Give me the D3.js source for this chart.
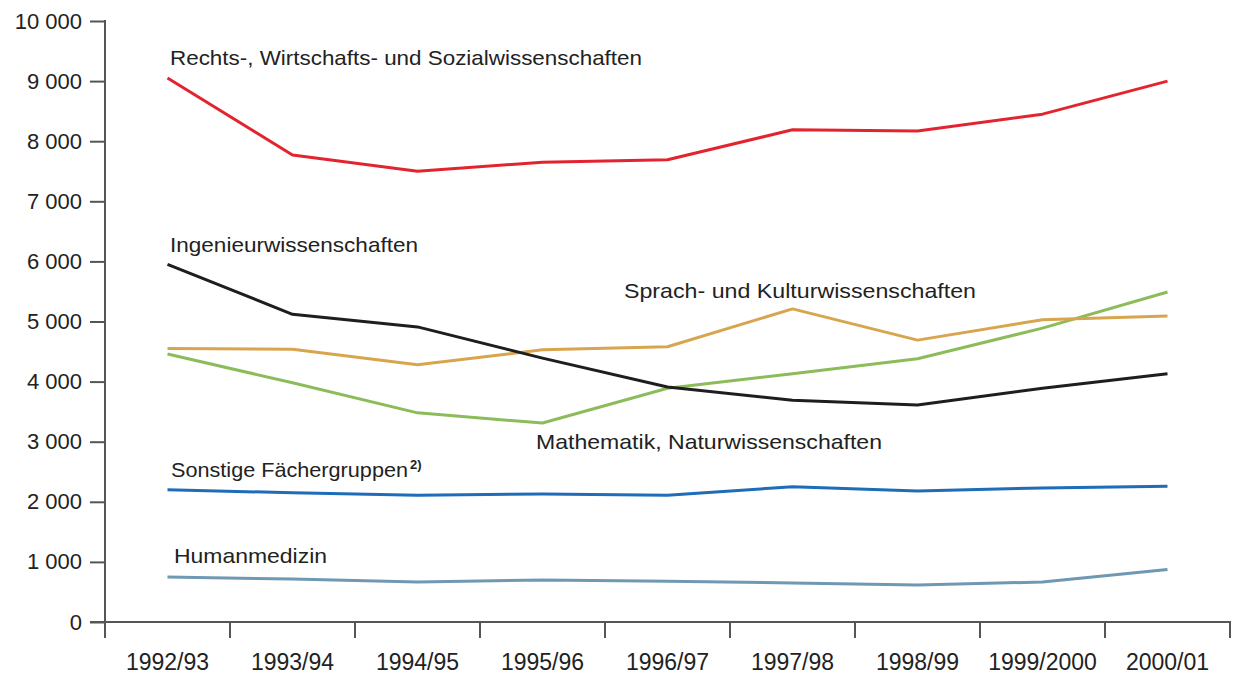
<!DOCTYPE html>
<html>
<head>
<meta charset="utf-8">
<script src="https://cdn.jsdelivr.net/npm/d3@7"></script>
<style>
  body { margin: 0; background: #fff; }
  text { font-family: "Liberation Sans", Arial, sans-serif; fill: #222; }
</style>
</head>
<body>
<div id="chart"></div>
<script>
// Data
const years = ["1992/93", "1993/94", "1994/95", "1995/96", "1996/97", "1997/98", "1998/99", "1999/2000", "2000/01"];
const yTicks = [0, 1000, 2000, 3000, 4000, 5000, 6000, 7000, 8000, 9000, 10000];

const rechts = [9050, 7770, 7500, 7650, 7690, 8190, 8170, 8450, 9000];
const ingenieur = [5950, 5120, 4910, 4390, 3910, 3690, 3610, 3890, 4130];
const sprach = [4550, 4540, 4280, 4530, 4580, 5210, 4690, 5030, 5090];
const mathe = [4460, 3980, 3480, 3310, 3890, 4130, 4380, 4890, 5490];
const sonstige = [2200, 2150, 2110, 2130, 2110, 2250, 2180, 2230, 2260];
const human = [750, 715, 665, 700, 680, 650, 615, 665, 875];

const seriesNames = [
  "Rechts-, Wirtschafts- und Sozialwissenschaften",
  "Ingenieurwissenschaften",
  "Sprach- und Kulturwissenschaften",
  "Mathematik, Naturwissenschaften",
  "Sonstige Fächergruppen",
  "Humanmedizin"
];

// Setup layout
const svgWidth = 1235;
const svgHeight = 675;

const svg = d3.select("#chart")
  .append("svg")
  .attr("width", svgWidth)
  .attr("height", svgHeight);

const xScale = d3.scaleBand()
  .domain(years)
  .range([105, 1230]);

const yScale = d3.scaleLinear()
  .domain([0, 10000])
  .range([622, 21]);

const axisColor = "#555";

// y axis
const yAxis = svg.append("g")
  .attr("transform", "translate(105,0)")
  .call(d3.axisLeft(yScale).tickValues(yTicks).tickSize(15).tickSizeOuter(0)
    .tickFormat(d => d3.format(",")(d).replace(",", " ")));
yAxis.select(".domain").remove();
yAxis.selectAll(".tick line").attr("stroke", axisColor).attr("stroke-width", 2);
yAxis.selectAll(".tick text")
  .attr("x", -23)
  .attr("font-size", 22)
  .attr("font-family", "'Liberation Sans', Arial, sans-serif")
  .attr("fill", "#222");

svg.append("line")
  .attr("x1", 105).attr("x2", 105)
  .attr("y1", yScale(10000) - 1).attr("y2", 638)
  .attr("stroke", axisColor).attr("stroke-width", 2);

// x axis
svg.append("line")
  .attr("x1", 90).attr("x2", 1231)
  .attr("y1", yScale(0)).attr("y2", yScale(0))
  .attr("stroke", axisColor).attr("stroke-width", 2);

const bounds = years.map(y => xScale(y)).concat([xScale.range()[1]]);
svg.append("g").selectAll("line")
  .data(bounds.slice(1))
  .enter()
  .append("line")
  .attr("x1", d => d).attr("x2", d => d)
  .attr("y1", yScale(0)).attr("y2", 638)
  .attr("stroke", axisColor).attr("stroke-width", 2);

svg.append("g").selectAll("text")
  .data(years)
  .enter()
  .append("text")
  .attr("x", d => xScale(d) + xScale.bandwidth() / 2)
  .attr("y", 670)
  .attr("text-anchor", "middle")
  .attr("font-size", 23)
  .text(d => d);

// lines
const lineGen = d3.line()
  .x((d, i) => xScale(years[i]) + xScale.bandwidth() / 2)
  .y(d => yScale(d));

const series = [
  { values: human, color: "#6f98b3" },
  { values: sonstige, color: "#1f6cb8" },
  { values: mathe, color: "#8cbc5a" },
  { values: sprach, color: "#d9a44e" },
  { values: ingenieur, color: "#1e1e1e" },
  { values: rechts, color: "#e3242e" }
];

svg.append("g").selectAll("path")
  .data(series)
  .enter()
  .append("path")
  .attr("d", d => lineGen(d.values))
  .attr("fill", "none")
  .attr("stroke", d => d.color)
  .attr("stroke-width", 3)
  .attr("stroke-linejoin", "round");

// line labels
const labels = [
  { text: seriesNames[0], x: 170, y: 65, w: 472 },
  { text: seriesNames[1], x: 170, y: 252, w: 248 },
  { text: seriesNames[2], x: 624, y: 298, w: 352 },
  { text: seriesNames[3], x: 536, y: 449, w: 346 },
  { text: seriesNames[4], x: 171, y: 477, w: 237 },
  { text: seriesNames[5], x: 174, y: 563, w: 153 }
];

svg.append("g").selectAll("text")
  .data(labels)
  .enter()
  .append("text")
  .attr("x", d => d.x)
  .attr("y", d => d.y)
  .attr("font-size", 21)
  .attr("textLength", d => d.w)
  .attr("lengthAdjust", "spacingAndGlyphs")
  .text(d => d.text);

// footnote marker
svg.append("text")
  .attr("x", 410)
  .attr("y", 469)
  .attr("font-size", 13)
  .attr("font-weight", "bold")
  .text("2)");
</script>
</body>
</html>
